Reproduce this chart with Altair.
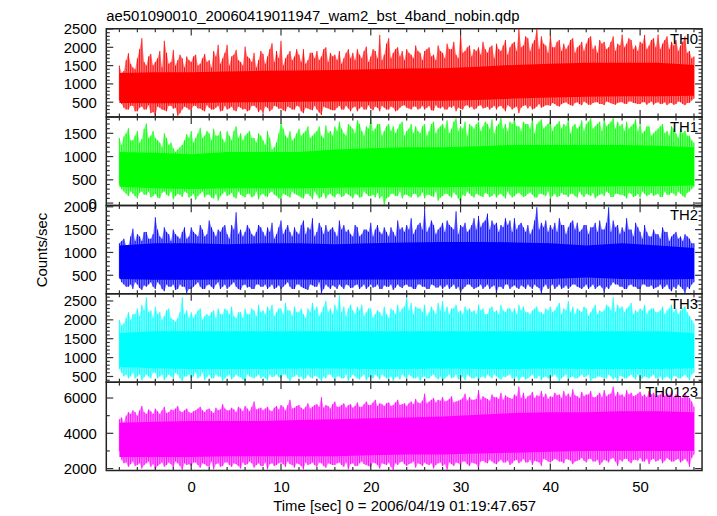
import altair as alt
import pandas as pd

TITLE = "ae501090010_20060419011947_wam2_bst_4band_nobin.qdp"
XTITLE = "Time [sec] 0 = 2006/04/19 01:19:47.657"
YTITLE = "Counts/sec"
NAMES = ["TH0", "TH1", "TH2", "TH3", "TH0123"]
COLORS = ["#ff0000", "#00ff00", "#0000ff", "#00ffff", "#ff00ff"]

# envelope readings: *_HI / *_LO at t = -8.0, -7.5, ... 56.0 ; *_HI_B / *_LO_B at t = -7.75, -7.25, ... 55.75
T_START, T_STEP, N_SAMPLES = -8.0, 0.5, 129
CORE_TIMES = [-8, -4, 0, 4, 8, 12, 16, 20, 24, 28, 32, 36, 40, 44, 48, 52, 56]

# ---- TH0 ----
TH0_HI = [1500, 1350, 1840, 1450, 1700, 2250, 1500, 1820, 1600, 1900, 2180, 1550, 1930, 1650, 1700, 1750,
          1600, 1800, 1550, 1820, 1650, 1900, 2070, 1700, 2070, 1750, 1930, 1600, 2020, 1700, 1850, 1650,
          1820, 1750, 2110, 1900, 2180, 1700, 1900, 1750, 1800, 1950, 1650, 1850, 1900, 1750, 2000, 1850,
          1800, 1900, 1700, 1950, 1850, 1950, 1700, 2020, 1750, 1900, 2340, 1800, 2250, 1850, 2000, 1900,
          1950, 1800, 2050, 1850, 1900, 2000, 1800, 2050, 1850, 2100, 1950, 1800, 2430, 1900, 2050, 1950,
          2000, 2150, 1850, 2050, 2100, 1900, 2200, 2000, 2150, 2520, 2050, 2250, 2100, 2520, 2300, 2050,
          2350, 2000, 2200, 2100, 2050, 2250, 2000, 2150, 2100, 2300, 2050, 2200, 2150, 2000, 2300, 2100,
          2350, 2100, 2200, 2050, 2150, 2340, 2050, 2250, 2350, 2100, 2300, 2150, 2200, 2050, 2300, 1900,
          1750]
TH0_LO = [550, 350, 300, 400, 250, 380, 300, 200, 130, 350, 280, 400, 320, 130, 300, 350,
          280, 400, 330, 250, 350, 300, 400, 270, 300, 380, 250, 350, 320, 280, 400, 230,
          200, 350, 300, 380, 330, 250, 350, 300, 380, 200, 330, 280, 300, 150, 350, 300,
          280, 400, 300, 330, 350, 250, 380, 300, 320, 380, 250, 350, 300, 350, 280, 400,
          350, 300, 380, 330, 300, 400, 270, 350, 380, 300, 350, 250, 320, 400, 350, 300,
          400, 330, 380, 350, 300, 400, 250, 380, 350, 200, 400, 330, 300, 380, 350, 420,
          400, 450, 380, 480, 450, 400, 500, 420, 480, 430, 500, 450, 420, 500, 450, 480,
          500, 450, 520, 470, 450, 500, 480, 430, 500, 460, 420, 480, 450, 500, 420, 480,
          600]
TH0_HI_B = [1300, 1650, 1550, 1400, 1950, 1600, 1750, 1500, 1700, 1450, 1850, 1600, 1500, 1800, 1450, 1650,
            1750, 1500, 1700, 1600, 1450, 1750, 1550, 1850, 1500, 1800, 1650, 1500, 1750, 1600, 1450, 1900,
            1550, 1950, 1600, 1700, 1500, 1800, 1650, 1950, 1600, 1550, 1850, 1700, 1650, 1950, 1600, 1750,
            1650, 1550, 1850, 1700, 1650, 1800, 1900, 1600, 1950, 1700, 1650, 2100, 1700, 1950, 1750, 1650,
            1850, 1700, 1900, 1650, 1950, 1750, 1650, 1900, 1700, 1950, 2150, 1700, 1850, 2000, 1750, 1900,
            1800, 1950, 2000, 1700, 1950, 2050, 1800, 2100, 1900, 2000, 2300, 1900, 2200, 1950, 2100, 1850,
            2000, 2150, 1900, 1950, 2200, 1850, 2050, 1900, 2250, 1950, 1850, 2100, 1950, 2150, 1900, 2050,
            2000, 2250, 1950, 1900, 2100, 1950, 2200, 2000, 1950, 2200, 1950, 2050, 1900, 2150, 1850, 1700]
TH0_LO_B = [450, 300, 400, 250, 350, 300, 420, 230, 380, 300, 250, 400, 350, 200, 380, 300,
            400, 330, 280, 420, 300, 350, 250, 400, 330, 280, 380, 300, 250, 400, 350, 300,
            380, 250, 400, 320, 280, 380, 300, 400, 250, 350, 300, 400, 220, 380, 330, 280,
            350, 300, 400, 250, 380, 330, 300, 420, 280, 350, 400, 300, 380, 250, 350, 420,
            330, 380, 300, 400, 350, 280, 420, 330, 300, 380, 400, 350, 300, 420, 380, 330,
            420, 350, 300, 400, 380, 330, 420, 300, 380, 350, 420, 400, 330, 450, 380, 420,
            480, 400, 450, 500, 420, 480, 450, 520, 430, 480, 500, 450, 520, 470, 430, 500,
            460, 520, 480, 450, 500, 430, 520, 480, 450, 500, 470, 430, 520, 450, 480, 550]
TH0_CORE_HI = [1300, 1320, 1320, 1340, 1360, 1370, 1380, 1400, 1420, 1430, 1470, 1520, 1550, 1580, 1580, 1580, 1520]
TH0_CORE_LO = [480, 470, 470, 490, 500, 510, 520, 520, 540, 540, 560, 600, 630, 650, 660, 660, 680]

# ---- TH1 ----
TH1_HI = [1400, 1430, 1610, 1350, 1550, 1380, 1710, 1450, 1400, 1300, 1500, 1250, 1180, 1150, 1250, 1480,
          1550, 1400, 1620, 1450, 1500, 1600, 1450, 1380, 1550, 1350, 1650, 1500, 1450, 1550, 1400, 1500,
          1350, 1550, 1150, 1300, 1710, 1450, 1550, 1400, 1600, 1500, 1650, 1450, 1550, 1450, 1670, 1550,
          1650, 1750, 1500, 1700, 1600, 1780, 1550, 1650, 1820, 1600, 1700, 1550, 1700, 1650, 1600, 1750,
          1550, 1700, 1650, 1500, 1700, 1550, 1750, 1600, 1700, 1780, 1600, 1820, 1650, 1750, 1700, 1600,
          1750, 1650, 1700, 1800, 1650, 1830, 1700, 1750, 1800, 1650, 1750, 1700, 1830, 1700, 1800, 1650,
          1750, 1650, 1760, 1700, 1800, 1650, 1600, 1780, 1700, 1820, 1650, 1750, 1800, 1700, 1830, 1750,
          1700, 1750, 1650, 1800, 1700, 1550, 1650, 1500, 1600, 1700, 1550, 1650, 1500, 1600, 1550, 1450,
          1300]
TH1_LO = [400, 250, 150, 200, 100, 250, 180, 120, 200, 100, 250, 150, 80, 200, 130, 220,
          150, 70, 200, 120, 180, 100, 50, 200, 150, 220, 100, 180, 120, 200, 150, 80,
          200, 130, 250, 150, 100, 180, 120, 200, 150, 100, 200, 80, 180, 130, 100, 200,
          120, 200, 150, 180, 100, 180, 130, 200, 150, 120, 100, -40, 130, 200, 150, 100,
          180, 120, 200, 150, 100, 180, 130, 50, 150, 200, 120, 180, 0, 150, 200, 120,
          180, 130, 200, 150, 120, 200, 100, 180, 150, 220, 130, 200, 180, 120, 200, 150,
          100, 200, 150, 180, 130, 200, 120, 180, 200, 150, 100, 180, 150, 220, 130, 200,
          180, 100, 200, 150, 120, 200, 180, 150, 200, 130, 180, 220, 150, 200, 120, 250,
          350]
TH1_HI_B = [1250, 1500, 1350, 1450, 1300, 1600, 1400, 1550, 1350, 1200, 1400, 1300, 1100, 1200, 1350, 1400,
            1300, 1500, 1400, 1550, 1350, 1450, 1550, 1300, 1450, 1550, 1400, 1350, 1500, 1400, 1300, 1450,
            1250, 1400, 1200, 1500, 1600, 1400, 1350, 1500, 1450, 1550, 1400, 1500, 1650, 1400, 1500, 1450,
            1550, 1600, 1450, 1650, 1500, 1700, 1450, 1600, 1550, 1700, 1450, 1650, 1550, 1500, 1700, 1450,
            1600, 1500, 1550, 1650, 1450, 1700, 1500, 1650, 1600, 1500, 1750, 1550, 1600, 1450, 1650, 1700,
            1550, 1750, 1600, 1500, 1700, 1600, 1550, 1700, 1650, 1550, 1700, 1600, 1500, 1750, 1600, 1700,
            1550, 1700, 1600, 1650, 1500, 1700, 1650, 1550, 1750, 1600, 1700, 1550, 1650, 1750, 1600, 1650,
            1550, 1600, 1700, 1550, 1500, 1650, 1450, 1550, 1650, 1500, 1450, 1600, 1400, 1500, 1450, 1350]
TH1_LO_B = [300, 200, 250, 150, 220, 180, 250, 150, 120, 220, 180, 250, 150, 180, 250, 120,
            200, 150, 250, 180, 120, 200, 150, 250, 180, 130, 250, 150, 200, 120, 250, 180,
            150, 220, 180, 100, 200, 150, 250, 180, 120, 200, 150, 250, 100, 220, 180, 150,
            200, 130, 220, 150, 200, 120, 250, 150, 180, 220, 150, 100, 200, 150, 250, 180,
            150, 200, 120, 230, 180, 150, 250, 120, 200, 150, 230, 100, 180, 250, 150, 200,
            150, 220, 130, 200, 180, 150, 250, 120, 200, 180, 150, 230, 120, 200, 180, 250,
            150, 130, 220, 180, 200, 150, 250, 130, 180, 220, 150, 200, 250, 130, 200, 180,
            150, 220, 130, 200, 250, 150, 220, 180, 130, 250, 180, 200, 250, 150, 220, 300]
TH1_CORE_HI = [1100, 1080, 1050, 1100, 1100, 1100, 1150, 1180, 1200, 1200, 1220, 1250, 1250, 1250, 1250, 1230, 1200]
TH1_CORE_LO = [350, 320, 300, 320, 320, 320, 330, 340, 340, 340, 350, 350, 350, 350, 360, 360, 380]

# ---- TH2 ----
TH2_HI = [1200, 1300, 1150, 1520, 1400, 1250, 1450, 1300, 1770, 1350, 1550, 1400, 1500, 1350, 1450, 1300,
          1550, 1400, 1600, 1350, 1700, 1450, 1500, 1550, 1400, 1600, 1880, 1500, 1450, 1520, 1350, 1600,
          1450, 1550, 1650, 1400, 1700, 1500, 1450, 1550, 1400, 1700, 1550, 1750, 1450, 1550, 1600, 1500,
          1450, 1700, 1600, 1500, 1350, 1550, 1400, 1500, 1650, 1500, 1450, 1550, 1350, 1450, 1700, 1550,
          1600, 1750, 1500, 1650, 1950, 1550, 1600, 1500, 1650, 1700, 1550, 1900, 1600, 1650, 1500, 1750,
          1800, 1650, 1850, 1700, 1650, 1600, 1750, 1700, 1750, 1600, 1550, 1600, 1500, 1990, 1650, 1700,
          1600, 1650, 1750, 1600, 1550, 1700, 1650, 1500, 1600, 1550, 1650, 1700, 1500, 1990, 1700, 1600,
          1550, 1750, 1500, 1650, 1450, 1600, 1350, 1500, 1400, 1550, 1450, 1350, 1450, 1350, 1400, 1300,
          1200]
TH2_LO = [450, 300, 250, 200, 300, 180, 250, 350, 200, 300, 150, 250, 300, 200, 250, 110,
          200, 300, 250, 200, 300, 200, 350, 250, 200, 300, 250, 180, 300, 250, 200, 300,
          250, 200, 300, 230, 200, 300, 250, 200, 300, 220, 180, 280, 250, 110, 300, 200,
          250, 300, 200, 280, 230, 300, 250, 200, 300, 250, 200, 280, 250, 180, 300, 220,
          300, 250, 200, 300, 250, 200, 280, 230, 200, 300, 250, 200, 110, 250, 300, 200,
          250, 200, 300, 250, 110, 250, 300, 200, 280, 200, 250, 300, 200, 250, 110, 300,
          250, 200, 300, 230, 200, 300, 250, 200, 300, 250, 200, 280, 150, 200, 350, 300,
          250, 200, 300, 250, 200, 300, 250, 200, 250, 200, 300, 150, 200, 250, 110, 200,
          350]
TH2_HI_B = [1250, 1150, 1350, 1250, 1350, 1450, 1300, 1400, 1500, 1300, 1450, 1250, 1400, 1300, 1550, 1350,
            1450, 1350, 1500, 1400, 1550, 1350, 1450, 1600, 1300, 1500, 1400, 1350, 1600, 1400, 1450, 1550,
            1350, 1450, 1300, 1550, 1400, 1600, 1350, 1450, 1600, 1400, 1500, 1350, 1650, 1400, 1450, 1550,
            1350, 1500, 1450, 1400, 1600, 1350, 1500, 1450, 1350, 1600, 1400, 1450, 1550, 1350, 1500, 1450,
            1500, 1400, 1600, 1500, 1450, 1700, 1400, 1550, 1450, 1600, 1500, 1400, 1550, 1450, 1600, 1500,
            1550, 1700, 1500, 1600, 1450, 1550, 1600, 1450, 1500, 1650, 1450, 1400, 1700, 1500, 1550, 1450,
            1500, 1450, 1600, 1400, 1650, 1500, 1450, 1600, 1400, 1550, 1450, 1500, 1650, 1450, 1550, 1400,
            1450, 1500, 1350, 1550, 1300, 1450, 1350, 1400, 1300, 1450, 1250, 1400, 1300, 1250, 1350, 1200]
TH2_LO_B = [350, 250, 300, 350, 220, 280, 300, 250, 350, 200, 300, 250, 180, 300, 250, 200,
            250, 350, 200, 280, 250, 300, 200, 300, 250, 350, 200, 280, 230, 200, 300, 250,
            300, 250, 200, 280, 250, 350, 200, 300, 250, 200, 300, 250, 350, 200, 250, 280,
            200, 250, 300, 220, 280, 200, 300, 250, 230, 300, 200, 250, 300, 230, 250, 280,
            250, 200, 300, 250, 200, 300, 230, 280, 250, 200, 300, 250, 200, 300, 250, 230,
            300, 250, 200, 280, 250, 200, 300, 250, 230, 280, 200, 250, 300, 220, 250, 200,
            300, 250, 200, 280, 250, 300, 230, 250, 200, 300, 250, 230, 250, 280, 300, 250,
            200, 280, 250, 200, 300, 250, 280, 230, 300, 250, 200, 250, 300, 200, 250, 300]
TH2_CORE_HI = [1150, 1200, 1200, 1180, 1200, 1200, 1180, 1200, 1220, 1230, 1230, 1220, 1200, 1150, 1200, 1150, 1100]
TH2_CORE_LO = [420, 400, 400, 410, 410, 410, 400, 410, 410, 420, 420, 410, 420, 450, 420, 410, 420]

# ---- TH3 ----
TH3_HI = [2000, 1900, 2200, 2150, 2300, 2400, 2600, 2250, 2350, 2200, 2100, 2300, 2000, 2050, 2600, 2250,
          2200, 2150, 2300, 2100, 2100, 2250, 2300, 2150, 2250, 2350, 2050, 2200, 2300, 2150, 2250, 2400,
          2250, 2350, 2400, 2200, 2300, 2450, 2250, 2350, 2200, 2150, 2300, 2450, 2350, 2200, 2500, 2300,
          2400, 2650, 2350, 2300, 2250, 2350, 2400, 2200, 2300, 2150, 2200, 2350, 2050, 2250, 2400, 2300,
          2600, 2450, 2350, 2300, 2400, 2200, 2250, 2450, 2500, 2350, 2300, 2400, 2250, 2350, 2300, 2250,
          2400, 2300, 2150, 2350, 2250, 2400, 2200, 2300, 2300, 2400, 2350, 2200, 2250, 2350, 2200, 2300,
          2350, 2250, 2450, 2300, 2500, 2350, 2300, 2200, 2300, 2200, 2400, 2250, 2250, 2350, 2600, 2400,
          2350, 2300, 2450, 2250, 2300, 2400, 2250, 2300, 2200, 2350, 2250, 2400, 2300, 2250, 2350, 2100,
          1900]
TH3_LO = [700, 500, 450, 600, 500, 400, 550, 450, 600, 500, 400, 550, 450, 550, 380, 500,
          450, 600, 500, 400, 550, 450, 500, 380, 500, 420, 550, 480, 380, 500, 450, 550,
          500, 400, 480, 550, 450, 550, 380, 500, 480, 420, 550, 450, 500, 380, 450, 550,
          420, 500, 450, 380, 550, 450, 500, 400, 480, 550, 420, 500, 450, 380, 500, 550,
          420, 500, 450, 380, 500, 450, 550, 420, 380, 500, 450, 550, 450, 400, 500, 450,
          380, 500, 550, 450, 500, 420, 480, 550, 450, 380, 500, 450, 550, 450, 400, 500,
          450, 550, 380, 500, 420, 500, 450, 550, 500, 380, 450, 500, 450, 550, 420, 380,
          500, 450, 550, 420, 380, 500, 450, 550, 450, 400, 500, 380, 500, 450, 550, 400,
          600]
TH3_HI_B = [1850, 2050, 2000, 2150, 2100, 2250, 2200, 2050, 2150, 2000, 2250, 2050, 1950, 2200, 2150, 2050,
            2050, 2250, 2000, 2150, 2200, 2050, 2150, 2300, 2150, 2100, 2200, 2050, 2150, 2300, 2100, 2200,
            2150, 2250, 2100, 2300, 2150, 2250, 2100, 2200, 2300, 2050, 2200, 2250, 2100, 2350, 2200, 2150,
            2250, 2200, 2100, 2400, 2150, 2250, 2100, 2300, 2050, 2250, 2100, 2150, 2300, 2150, 2200, 2350,
            2250, 2150, 2300, 2200, 2100, 2350, 2150, 2250, 2200, 2150, 2300, 2200, 2150, 2250, 2200, 2150,
            2250, 2150, 2300, 2200, 2150, 2250, 2300, 2200, 2150, 2250, 2200, 2150, 2300, 2200, 2150, 2250,
            2200, 2350, 2150, 2250, 2200, 2150, 2250, 2350, 2100, 2300, 2150, 2200, 2400, 2250, 2200, 2300,
            2200, 2350, 2150, 2200, 2250, 2150, 2300, 2200, 2250, 2150, 2300, 2200, 2150, 2300, 2200, 2000]
TH3_LO_B = [600, 550, 500, 450, 550, 480, 500, 600, 450, 550, 480, 500, 600, 450, 500, 550,
            500, 450, 600, 480, 450, 550, 500, 450, 550, 480, 500, 420, 550, 480, 500, 450,
            450, 550, 500, 480, 550, 450, 480, 550, 500, 450, 480, 520, 450, 500, 550, 480,
            500, 450, 550, 480, 500, 420, 550, 480, 450, 500, 550, 450, 500, 480, 420, 500,
            550, 450, 500, 480, 450, 520, 480, 500, 450, 550, 480, 420, 500, 550, 450, 500,
            480, 450, 500, 550, 450, 500, 520, 450, 500, 480, 420, 500, 450, 520, 480, 450,
            500, 480, 450, 550, 480, 450, 500, 480, 550, 450, 500, 480, 450, 500, 480, 520,
            450, 500, 480, 550, 450, 480, 500, 450, 500, 480, 450, 520, 450, 500, 480, 550]
TH3_CORE_HI = [1650, 1700, 1700, 1700, 1700, 1700, 1700, 1700, 1700, 1700, 1700, 1700, 1700, 1700, 1700, 1700, 1650]
TH3_CORE_LO = [750, 720, 700, 700, 700, 710, 710, 700, 700, 710, 700, 700, 710, 700, 700, 700, 720]

# ---- TH0123 ----
TH0123_HI = [4800, 4600, 5200, 5300, 5000, 5550, 5100, 5250, 5400, 5100, 5500, 5200, 5300, 5550, 5200, 5400,
             5150, 5300, 5500, 5200, 5400, 5150, 5300, 5650, 5300, 5450, 5200, 5400, 5550, 5250, 5800, 5400,
             5300, 5500, 5250, 5550, 5600, 5300, 5900, 5450, 5600, 5350, 5700, 5500, 5650, 6050, 5600, 5400,
             5800, 5500, 5700, 5600, 5450, 5750, 5500, 5800, 5600, 5900, 5700, 5550, 5750, 5600, 5900, 5650,
             5550, 5800, 5950, 5700, 6250, 5800, 6000, 5900, 6050, 5850, 6100, 5800, 5900, 6250, 6050, 5900,
             6450, 6100, 5950, 6200, 6050, 6300, 6150, 6000, 6200, 6650, 6300, 6100, 6350, 6150, 6400, 6250,
             6100, 6300, 6200, 6400, 6250, 6500, 6100, 6350, 6200, 6400, 6050, 6300, 6450, 6200, 6650, 6350,
             6200, 6450, 6300, 6150, 6350, 6200, 6400, 6300, 6150, 6350, 6250, 6400, 6200, 6050, 6300, 6000,
             5500]
TH0123_LO = [3000, 2300, 2100, 2400, 2200, 2000, 2300, 2100, 1950, 2250, 2100, 2350, 2050, 2300, 1900, 2200,
             2150, 2350, 2050, 2250, 2100, 1950, 2300, 2150, 2350, 2100, 2250, 2000, 2200, 2400, 2050, 2300,
             2150, 1950, 2300, 2200, 2350, 2100, 2250, 2050, 2250, 1950, 2200, 2350, 2100, 2300, 2050, 2250,
             2200, 2350, 2100, 1950, 2300, 2150, 2400, 2200, 2100, 2300, 2000, 2250, 2350, 1900, 2200, 2400,
             2150, 2300, 2050, 2250, 2350, 2200, 2000, 2300, 2150, 1900, 2250, 2350, 2200, 2400, 2150, 2300,
             2000, 2450, 2300, 2400, 2250, 2500, 2350, 2200, 2450, 2300, 2550, 2350, 2200, 2400, 2150, 2500,
             2350, 2550, 2400, 2300, 2500, 2250, 2450, 2600, 2350, 2550, 2400, 2200, 2500, 2350, 2600, 2150,
             2400, 2550, 2300, 2500, 2600, 2400, 2250, 2550, 2450, 2300, 2600, 2400, 2500, 2350, 2550, 2100,
             2800]
TH0123_HI_B = [4900, 5000, 5100, 5200, 5300, 5200, 5350, 5100, 5250, 5300, 5150, 5350, 5400, 5250, 5300, 5200,
               5250, 5400, 5300, 5350, 5250, 5450, 5350, 5400, 5300, 5350, 5500, 5250, 5400, 5500, 5350, 5450,
               5400, 5300, 5450, 5350, 5500, 5600, 5400, 5550, 5450, 5500, 5400, 5600, 5500, 5450, 5550, 5650,
               5500, 5600, 5450, 5650, 5550, 5500, 5650, 5600, 5750, 5550, 5650, 5700, 5550, 5750, 5600, 5700,
               5700, 5650, 5750, 5850, 5700, 5900, 5750, 5850, 5800, 5950, 5750, 5850, 6000, 5850, 5900, 5950,
               5900, 6000, 5850, 6050, 5950, 5900, 6050, 5950, 6100, 6000, 5950, 6150, 6000, 6100, 6050, 5950,
               6050, 6150, 6000, 6100, 6050, 6150, 6000, 6100, 6200, 6050, 6150, 6050, 6100, 6250, 6100, 6150,
               6050, 6200, 6100, 6250, 6100, 6050, 6200, 6100, 6200, 6100, 6150, 6050, 6150, 6000, 6100, 5800]
TH0123_LO_B = [2500, 2350, 2250, 2150, 2300, 2200, 2400, 2250, 2150, 2350, 2200, 2250, 2400, 2150, 2300, 2250,
               2350, 2200, 2300, 2150, 2400, 2250, 2100, 2350, 2200, 2300, 2150, 2350, 2250, 2300, 2200, 2150,
               2350, 2250, 2150, 2300, 2250, 2400, 2200, 2300, 2150, 2350, 2250, 2200, 2350, 2150, 2300, 2200,
               2300, 2200, 2350, 2250, 2150, 2300, 2250, 2150, 2350, 2200, 2300, 2200, 2100, 2300, 2350, 2250,
               2250, 2400, 2300, 2150, 2250, 2300, 2200, 2350, 2250, 2350, 2150, 2300, 2400, 2250, 2350, 2250,
               2400, 2350, 2500, 2300, 2400, 2350, 2450, 2300, 2500, 2400, 2350, 2500, 2450, 2350, 2550, 2400,
               2450, 2500, 2400, 2550, 2450, 2400, 2500, 2450, 2550, 2400, 2500, 2350, 2450, 2550, 2400, 2500,
               2550, 2400, 2500, 2450, 2400, 2550, 2500, 2400, 2550, 2450, 2500, 2400, 2550, 2450, 2400, 2600]
TH0123_CORE_HI = [4600, 4650, 4700, 4700, 4700, 4750, 4800, 4850, 4900, 4950, 5050, 5150, 5200, 5200, 5250, 5250, 5200]
TH0123_CORE_LO = [2650, 2650, 2650, 2700, 2700, 2700, 2700, 2750, 2800, 2800, 2850, 2900, 2950, 3000, 3000, 3000, 3000]

HI = [TH0_HI, TH1_HI, TH2_HI, TH3_HI, TH0123_HI]
LO = [TH0_LO, TH1_LO, TH2_LO, TH3_LO, TH0123_LO]
HI_B = [TH0_HI_B, TH1_HI_B, TH2_HI_B, TH3_HI_B, TH0123_HI_B]
LO_B = [TH0_LO_B, TH1_LO_B, TH2_LO_B, TH3_LO_B, TH0123_LO_B]
CORE_HI = [TH0_CORE_HI, TH1_CORE_HI, TH2_CORE_HI, TH3_CORE_HI, TH0123_CORE_HI]
CORE_LO = [TH0_CORE_LO, TH1_CORE_LO, TH2_CORE_LO, TH3_CORE_LO, TH0123_CORE_LO]

# axes
X_DOMAIN = [-9.46, 56.9]
X_LABELS = [0, 10, 20, 30, 40, 50]
X_MINOR = [-8, -6, -4, -2, 2, 4, 6, 8, 12, 14, 16, 18, 22, 24, 26, 28, 32, 34, 36, 38,
           42, 44, 46, 48, 52, 54, 56]
Y_DOMAINS = [[95, 2510], [-50, 1850], [95, 2030], [350, 2690], [1890, 6900]]
Y_LABELS = [[500, 1000, 1500, 2000, 2500], [0, 500, 1000, 1500], [500, 1000, 1500, 2000],
            [500, 1000, 1500, 2000, 2500], [2000, 4000, 6000]]
Y_MINOR_STEP = [100, 100, 100, 100, 1000]

W, H = 600, 89
FONT = "Liberation Sans"
FS = 15
TICK_COLOR = "#333333"
MAJ, MIN = 7, 3.5

times_a = [T_START + T_STEP * k for k in range(N_SAMPLES)]
times_b = [T_START + T_STEP * k + T_STEP / 2 for k in range(N_SAMPLES - 1)]
for arr in HI + LO:
    assert len(arr) == N_SAMPLES
for arr in HI_B + LO_B:
    assert len(arr) == N_SAMPLES - 1


def make_panel(i):
    color = COLORS[i]
    xs = alt.Scale(domain=X_DOMAIN, nice=False, zero=False)
    ys = alt.Scale(domain=Y_DOMAINS[i], nice=False, zero=False)
    if i == 4:
        xaxis = alt.Axis(values=X_LABELS, ticks=False, tickSize=0, domain=False, grid=False,
                         labelFont=FONT, labelFontSize=FS, labelColor="black", labelPadding=9,
                         labelFlush=False, format="d",
                         title=XTITLE, titleFont=FONT, titleFontSize=FS, titleFontWeight="normal",
                         titleColor="black", titlePadding=4)
    else:
        xaxis = None
    yargs = dict(values=Y_LABELS[i], ticks=False, tickSize=0, domain=False, grid=False,
                 labelFont=FONT, labelFontSize=FS, labelColor="black", labelPadding=10,
                 format="d")
    if i == 2:
        yargs.update(title=YTITLE, titleFont=FONT, titleFontSize=FS, titleFontWeight="normal",
                     titleColor="black", titleX=-65, titleY=H / 2, titleAngle=270,
                     titleBaseline="middle", titleAlign="center")
    else:
        yargs.update(title=None)
    yaxis = alt.Axis(**yargs)

    def X(f):
        return alt.X(f, type="quantitative", scale=xs, axis=xaxis)

    def Y(f):
        return alt.Y(f, type="quantitative", scale=ys, axis=yaxis)

    df = pd.concat([
        pd.DataFrame({"t": times_a, "hi": HI[i], "lo": LO[i]}),
        pd.DataFrame({"t": times_b, "hi": HI_B[i], "lo": LO_B[i]}),
    ]).sort_values("t").reset_index(drop=True)
    dc = pd.DataFrame({"t": CORE_TIMES, "chi": CORE_HI[i], "clo": CORE_LO[i]})

    fringe = alt.Chart(df).mark_area(color=color, opacity=0.5, clip=True).encode(
        x=X("t"), y=Y("hi"), y2=alt.Y2("lo"))
    spikes = alt.Chart(df).mark_rule(color=color, strokeWidth=1, opacity=0.9, clip=True).encode(
        x=X("t"), y=Y("hi"), y2=alt.Y2("lo"))
    core = alt.Chart(dc).mark_area(color=color, clip=True).encode(
        x=X("t"), y=Y("chi"), y2=alt.Y2("clo"))

    layers = [fringe, spikes, core]

    xmaj = pd.DataFrame({"t": X_LABELS})
    xmin = pd.DataFrame({"t": X_MINOR})
    for d, L in ((xmaj, MAJ), (xmin, MIN)):
        layers.append(alt.Chart(d).mark_rule(color=TICK_COLOR, strokeWidth=1.2).encode(
            x=X("t"), y=alt.value(0), y2=alt.value(L)))
        layers.append(alt.Chart(d).mark_rule(color=TICK_COLOR, strokeWidth=1.2).encode(
            x=X("t"), y=alt.value(H), y2=alt.value(H - L)))

    lo_d, hi_d = Y_DOMAINS[i]
    step = Y_MINOR_STEP[i]
    minor_vals = [v for v in range(0, int(hi_d) + 1, step) if v >= lo_d and v not in Y_LABELS[i]]
    ymaj = pd.DataFrame({"v": Y_LABELS[i]})
    ymin = pd.DataFrame({"v": minor_vals})
    for d, L in ((ymaj, MAJ), (ymin, MIN)):
        layers.append(alt.Chart(d).mark_rule(color=TICK_COLOR, strokeWidth=1.2).encode(
            y=Y("v"), x=alt.value(0), x2=alt.value(L)))
        layers.append(alt.Chart(d).mark_rule(color=TICK_COLOR, strokeWidth=1.2).encode(
            y=Y("v"), x=alt.value(W), x2=alt.value(W - L)))

    label = alt.Chart(pd.DataFrame({"name": [NAMES[i]]})).mark_text(
        align="right", baseline="top", font=FONT, fontSize=FS, color="black").encode(
        x=alt.value(W - 4), y=alt.value(3), text="name:N")
    layers.append(label)

    if i == 0:
        layers.append(alt.Chart(pd.DataFrame({"title": [TITLE]})).mark_text(
            align="left", baseline="alphabetic", font=FONT, fontSize=FS, color="black").encode(
            x=alt.value(0), y=alt.value(-8), text="title:N"))

    return alt.layer(*layers).properties(width=W, height=H)


chart = alt.vconcat(*[make_panel(i) for i in range(5)], spacing=0, bounds="flush").properties(
    padding={"left": 26, "top": -2, "right": 5, "bottom": 0},
    background="white",
).configure_view(stroke="#222222", strokeWidth=1.5)

chart.save("out.html", embed_options={"renderer": "svg", "actions": False})
